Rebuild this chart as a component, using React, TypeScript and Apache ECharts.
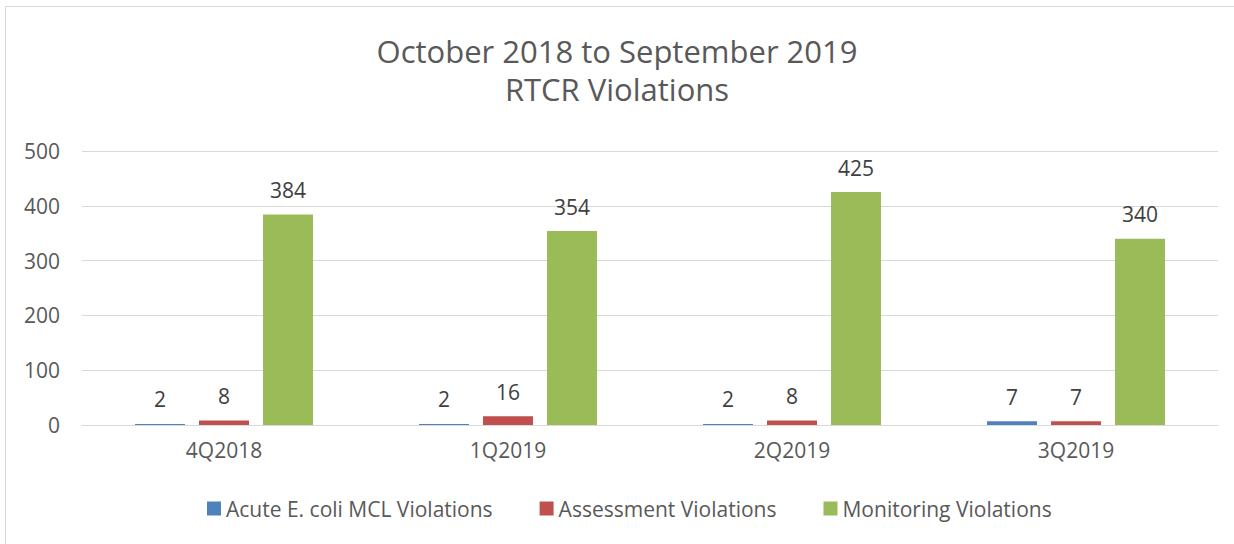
import React, { useEffect, useRef } from "react";
import * as echarts from "echarts";

const categories = ["4Q2018", "1Q2019", "2Q2019", "3Q2019"];
const acuteEcoli = [2, 2, 2, 7];
const assessment = [8, 16, 8, 7];
const monitoring = [384, 354, 425, 340];
const yTicks = [0, 100, 200, 300, 400, 500];

const FONT = "'Open Sans', 'Noto Sans', sans-serif";

export default function App() {
  const ref = useRef<HTMLDivElement>(null);
  useEffect(() => {
    if (!ref.current) return;
    const chart = echarts.init(ref.current, null, { renderer: "svg" });
    const label = {
      show: true,
      position: "top",
      distance: 14,
      color: "#404040",
      fontSize: 21,
      fontFamily: FONT,
    };
    chart.setOption({
      animation: false,
      backgroundColor: "#ffffff",
      graphic: [
        {
          type: "rect",
          shape: { x: 5.5, y: 6.5, width: 1240, height: 560 },
          style: { fill: "none", stroke: "#d9d9d9", lineWidth: 1 },
          silent: true,
        },
      ],
      title: {
        text: "October 2018 to September 2019\nRTCR Violations",
        left: "center",
        top: 27,
        textStyle: {
          color: "#595959",
          fontSize: 31,
          fontWeight: "normal",
          fontFamily: FONT,
          lineHeight: 38,
        },
      },
      legend: {
        top: 493,
        left: 202,
        itemWidth: 14,
        itemHeight: 14,
        itemGap: 47,
        icon: "rect",
        textStyle: { color: "#595959", fontSize: 21, fontFamily: FONT },
        data: ["Acute E. coli MCL Violations", "Assessment Violations", "Monitoring Violations"],
      },
      grid: { left: 82, right: 16, top: 151, bottom: 119 },
      xAxis: {
        type: "category",
        data: categories,
        axisLine: { lineStyle: { color: "#d9d9d9", width: 1 } },
        axisTick: { show: false },
        axisLabel: { color: "#595959", fontSize: 21, fontFamily: FONT, margin: 14 },
      },
      yAxis: {
        type: "value",
        min: yTicks[0],
        max: yTicks[yTicks.length - 1],
        interval: 100,
        axisLine: { show: false },
        axisTick: { show: false },
        splitLine: { lineStyle: { color: "#d9d9d9", width: 1 } },
        axisLabel: { color: "#595959", fontSize: 21, fontFamily: FONT, margin: 22 },
      },
      series: [
        {
          name: "Acute E. coli MCL Violations",
          type: "bar",
          data: acuteEcoli,
          barWidth: 50,
          barGap: "28%",
          itemStyle: { color: "#4f81bd" },
          label,
        },
        {
          name: "Assessment Violations",
          type: "bar",
          data: assessment,
          barWidth: 50,
          barGap: "28%",
          itemStyle: { color: "#c0504d" },
          label,
        },
        {
          name: "Monitoring Violations",
          type: "bar",
          data: monitoring,
          barWidth: 50,
          barGap: "28%",
          itemStyle: { color: "#9bbb59" },
          label,
        },
      ],
    });
    return () => chart.dispose();
  }, []);
  return (
    <div
      ref={ref}
      style={{ position: "absolute", left: 0, top: 0, width: 1234, height: 544 }}
    />
  );
}
